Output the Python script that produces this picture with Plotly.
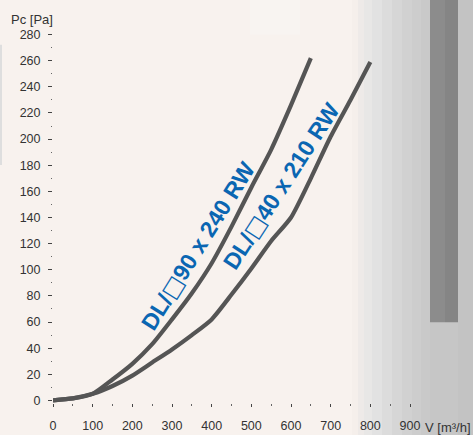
import plotly.graph_objects as go

# ---------------- data ----------------
flow_a = [0, 50, 100, 150, 200, 250, 300, 350, 400, 450, 500, 550, 600, 650]
pres_a = [0, 1.5, 5, 16, 28, 43, 62, 82, 105, 133, 163, 192, 226, 262]
name_a = ["DL/", "\u25a1", "90 x 240 RW"]

flow_b = [0, 50, 100, 150, 200, 250, 300, 350, 400, 450, 500, 550, 600, 650, 700, 750, 800]
pres_b = [0, 1.5, 5, 11, 19, 29, 39, 50, 62, 81, 101, 122, 140, 170, 202, 230, 259]
name_b = ["DL/", "\u25a1", "40 x 210 RW"]

x_ticks = [0, 100, 200, 300, 400, 500, 600, 700, 800, 900]
x_ticktext = ["0", "100", "200", "300", "400", "500", "600", "700", "800", "900"]
y_ticks = [0, 20, 40, 60, 80, 100, 120, 140, 160, 180, 200, 220, 240, 260, 280]

# ---------------- layout geometry ----------------
W, H = 473, 435
L, R = 53, 63
T, B = 32.4, 32.4
PW = W - L - R
PH = H - T - B

def px(xp):
    return (xp - L) / PW

def py(yp):
    return (H - B - yp) / PH

LINE = "#555555"
BLUE = "#0a66b2"
PINK = "#f8f2ee"

def label(parts):
    return "<b>%s<span style=\"font-family:'DejaVu Sans'\">%s</span>%s</b>" % tuple(parts)

fig = go.Figure()
fig.add_trace(go.Scatter(x=flow_a, y=pres_a, mode="lines", line=dict(color=LINE, width=4.2, shape="spline", smoothing=0.6),
                         showlegend=False, hoverinfo="skip"))
fig.add_trace(go.Scatter(x=flow_b, y=pres_b, mode="lines", line=dict(color=LINE, width=4.2, shape="spline", smoothing=0.6),
                         showlegend=False, hoverinfo="skip"))

shapes = []
# faint lighter strip at the top (scan background)
shapes.append(dict(type="rect", xref="paper", yref="paper", x0=px(250), x1=px(300), y0=py(35), y1=py(0),
                   fillcolor="#f8f4f1", line=dict(width=0), layer="below"))
# right-hand grey gradient (scan background)
grad = [(352, 358, "#f5efeb"), (358, 364, "#eeeae8"), (364, 372, "#e8e7e6"), (372, 382, "#e2e2e2"),
        (382, 392, "#dcdcdc"), (392, 402, "#d6d6d6"), (402, 412, "#d1d1d1"), (412, 421, "#cdcdcd"),
        (421, 430, "#c9c9c9"), (430, 473, "#c6c6c6")]
for x0, x1, c in grad:
    shapes.append(dict(type="rect", xref="paper", yref="paper", x0=px(x0), x1=px(x1), y0=py(435), y1=py(0),
                       fillcolor=c, line=dict(width=0), layer="below"))
# dark vertical band
shapes.append(dict(type="rect", xref="paper", yref="paper", x0=px(430), x1=px(445), y0=py(322), y1=py(0),
                   fillcolor="#8c8c8c", line=dict(width=0), layer="below"))
shapes.append(dict(type="rect", xref="paper", yref="paper", x0=px(445), x1=px(458), y0=py(322), y1=py(0),
                   fillcolor="#858585", line=dict(width=0), layer="below"))
shapes.append(dict(type="rect", xref="paper", yref="paper", x0=px(458), x1=px(473), y0=py(435), y1=py(0),
                   fillcolor="#c3c3c3", line=dict(width=0), layer="below"))
# faint left edge mark
shapes.append(dict(type="rect", xref="paper", yref="paper", x0=px(0), x1=px(2), y0=py(165), y1=py(45),
                   fillcolor="#dedede", line=dict(width=0), layer="below"))

annotations = [
    dict(text="Pc [Pa]", xref="paper", yref="paper", x=px(9), y=py(20), xanchor="left", yanchor="middle",
         showarrow=False, font=dict(size=13, color="#333333")),
    dict(text="V [m\u00b3/h]", xref="paper", yref="paper", x=px(422.5), y=py(427), xanchor="left", yanchor="middle",
         showarrow=False, font=dict(size=13, color="#333333")),
    dict(text=label(name_a), x=366, y=118, xref="x", yref="y", showarrow=False, textangle=-58,
         xanchor="center", yanchor="middle", font=dict(size=23, color=BLUE, family="Liberation Sans, Arial, sans-serif")),
    dict(text=label(name_b), x=576, y=164, xref="x", yref="y", showarrow=False, textangle=-57,
         xanchor="center", yanchor="middle", font=dict(size=23, color=BLUE, family="Liberation Sans, Arial, sans-serif")),
]

fig.update_layout(
    width=W, height=H,
    margin=dict(l=L, r=R, t=T, b=B, pad=0),
    paper_bgcolor=PINK, plot_bgcolor="rgba(0,0,0,0)",
    font=dict(family="Liberation Sans, Arial, sans-serif", size=12.5, color="#333333"),
    shapes=shapes, annotations=annotations, showlegend=False,
)
fig.update_xaxes(range=[0, 900], tickvals=x_ticks, ticktext=x_ticktext, showgrid=False, zeroline=False,
                 showline=False, ticks="outside", ticklen=3, tickwidth=1, tickcolor="#444444",
                 ticklabelstandoff=8, automargin=False,
                 minor=dict(ticks="outside", dtick=50, tick0=0, ticklen=1.5, tickwidth=1, tickcolor="#666666"))
fig.update_yaxes(range=[-2, 282], tickvals=y_ticks, showgrid=False, zeroline=False, showline=False,
                 ticks="outside", ticklen=4, tickwidth=1, tickcolor="#444444", ticklabelstandoff=5,
                 automargin=False,
                 minor=dict(ticks="outside", dtick=10, tick0=0, ticklen=1.5, tickwidth=1, tickcolor="#666666"))

fig.write_html("out.html", config={"displayModeBar": False},
               post_script="document.body.style.margin='0';document.body.style.overflow='hidden';")
